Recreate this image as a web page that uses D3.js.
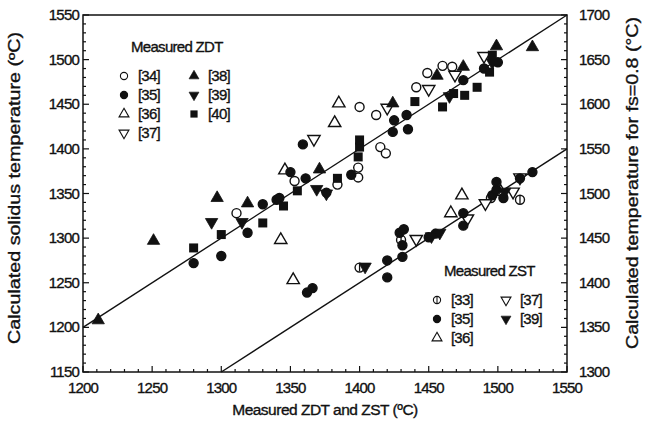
<!DOCTYPE html>
<html>
<head>
<meta charset="utf-8">
<script src="https://cdnjs.cloudflare.com/ajax/libs/d3/7.8.5/d3.min.js"></script>
<style>
  body { margin: 0; background: #fff; }
  text { font-family: Arial, "Liberation Sans", sans-serif; fill: #111; stroke: #111; stroke-width: 0.35; }
</style>
</head>
<body>
<script>
// Measured ZDT (x) vs calculated solidus temperature (left axis)
var zdt34 = [[1311,1328],[1353,1364],[1384,1360],[1399,1368],[1399,1379],[1400,1447],[1412,1438],[1415,1402],[1419,1395],[1441,1469],[1449,1485],[1460,1493],[1467,1492]];
var zdt35 = [[1280,1272],[1300,1280],[1319,1306],[1330,1338],[1340,1343],[1342,1345],[1350,1374],[1359,1405],[1361,1367],[1376,1351],[1394,1371],[1424,1419],[1425,1432],[1434,1438],[1435,1422],[1475,1477],[1490,1490],[1500,1497]];
var zdt36 = [[1382,1429],[1385,1451],[1346,1376]];
var zdt37 = [[1367,1411],[1420,1446],[1450,1467],[1469,1483],[1490,1504]];
var zdt38 = [[1211,1208],[1251,1297],[1297,1345],[1319,1339],[1371,1377],[1424,1451],[1456,1482],[1475,1492],[1499,1515],[1525,1514]];
var zdt39 = [[1293,1318],[1315,1318],[1369,1355],[1376,1350],[1465,1459],[1496,1497]];
var zdt40 = [[1280,1289],[1300,1304],[1330,1317],[1345,1336],[1355,1353],[1384,1367],[1399,1391],[1400,1402],[1400,1410],[1440,1453],[1460,1447],[1468,1462],[1476,1460],[1485,1469],[1494,1486],[1496,1505]];

// Measured ZST (x) vs calculated temperature for fs=0.8 (right axis)
var zst33 = [[1400,1417],[1430,1448],[1495,1495],[1516,1493]];
var zst35 = [[1362,1389],[1366,1394],[1420,1406],[1420,1425],[1431,1429],[1431,1442],[1429,1456],[1432,1460],[1450,1451],[1455,1455],[1475,1464],[1475,1478],[1496,1498],[1499,1504],[1504,1495],[1499,1513],[1516,1517],[1525,1524]];
var zst36 = [[1343,1448],[1352,1403],[1466,1478],[1474,1498],[1502,1502]];
var zst37 = [[1441,1449],[1478,1472],[1491,1489],[1511,1502],[1516,1518]];
var zst39 = [[1404,1418],[1452,1452],[1458,1456],[1505,1502]];

var xTicks = [1200,1250,1300,1350,1400,1450,1500,1550];
var yLeftTicks = [1150,1200,1250,1300,1350,1400,1450,1500,1550];
var yRightTicks = [1300,1350,1400,1450,1500,1550,1600,1650,1700];

var width = 648, height = 425;
var margin = {top: 15, right: 81, bottom: 53, left: 83};

var svg = d3.select("body").append("svg")
    .attr("width", width)
    .attr("height", height);

var x = d3.scaleLinear().domain([1200, 1550]).range([margin.left, width - margin.right]);
var yL = d3.scaleLinear().domain([1150, 1550]).range([height - margin.bottom, margin.top]);
var yR = d3.scaleLinear().domain([1300, 1700]).range([height - margin.bottom, margin.top]);

var x0 = margin.left, x1 = width - margin.right, y0 = height - margin.bottom, y1 = margin.top;

// frame
svg.append("rect")
    .attr("x", x0).attr("y", y1)
    .attr("width", x1 - x0).attr("height", y0 - y1)
    .attr("fill", "none").attr("stroke", "#111").attr("stroke-width", 1.5);

// ticks (inside), minor every 10
function minor(lo, hi) { return d3.range(lo, hi + 1, 10); }

svg.append("g").selectAll("line")
  .data(minor(1200, 1550))
  .enter().append("line")
    .attr("x1", function(d) { return x(d); })
    .attr("x2", function(d) { return x(d); })
    .attr("y1", y0)
    .attr("y2", function(d) { return d % 50 === 0 ? y0 - 6 : y0 - 3; })
    .attr("stroke", "#111").attr("stroke-width", 1.2);

svg.append("g").selectAll("line")
  .data(minor(1150, 1550))
  .enter().append("line")
    .attr("y1", function(d) { return yL(d); })
    .attr("y2", function(d) { return yL(d); })
    .attr("x1", x0)
    .attr("x2", function(d) { return d % 50 === 0 ? x0 + 6 : x0 + 3; })
    .attr("stroke", "#111").attr("stroke-width", 1.2);

svg.append("g").selectAll("line")
  .data(minor(1300, 1700))
  .enter().append("line")
    .attr("y1", function(d) { return yR(d); })
    .attr("y2", function(d) { return yR(d); })
    .attr("x1", x1)
    .attr("x2", function(d) { return d % 50 === 0 ? x1 - 6 : x1 - 3; })
    .attr("stroke", "#111").attr("stroke-width", 1.2);

// tick labels
svg.append("g").selectAll("text")
  .data(xTicks)
  .enter().append("text")
    .attr("x", function(d) { return x(d); })
    .attr("y", y0 + 21)
    .attr("text-anchor", "middle")
    .attr("font-size", 15)
    .attr("letter-spacing", -0.8)
    .text(function(d) { return d; });

svg.append("g").selectAll("text")
  .data(yLeftTicks)
  .enter().append("text")
    .attr("x", x0 - 4)
    .attr("y", function(d) { return yL(d) + 5; })
    .attr("text-anchor", "end")
    .attr("font-size", 15)
    .attr("letter-spacing", -0.8)
    .text(function(d) { return d; });

svg.append("g").selectAll("text")
  .data(yRightTicks)
  .enter().append("text")
    .attr("x", x1 + 12)
    .attr("y", function(d) { return yR(d) + 5; })
    .attr("text-anchor", "start")
    .attr("font-size", 15)
    .attr("letter-spacing", -0.8)
    .text(function(d) { return d; });

// axis titles
svg.append("text")
    .attr("x", (x0 + x1) / 2)
    .attr("y", 415)
    .attr("text-anchor", "middle")
    .attr("font-size", 15.5)
    .attr("letter-spacing", -0.5)
    .text("Measured ZDT and ZST (ºC)");

svg.append("text")
    .attr("transform", "translate(20,188) rotate(-90)")
    .attr("text-anchor", "middle")
    .attr("font-size", 16.5)
    .attr("textLength", 312)
    .attr("lengthAdjust", "spacingAndGlyphs")
    .text("Calculated solidus temperature (ºC)");

svg.append("text")
    .attr("transform", "translate(638,183) rotate(-90)")
    .attr("text-anchor", "middle")
    .attr("font-size", 16.5)
    .attr("textLength", 332)
    .attr("lengthAdjust", "spacingAndGlyphs")
    .text("Calculated temperature for fs=0.8 (°C)");

// y = x lines
svg.append("line")
    .attr("x1", x(1200)).attr("y1", yL(1200))
    .attr("x2", x(1550)).attr("y2", yL(1550))
    .attr("stroke", "#111").attr("stroke-width", 1.4);
svg.append("line")
    .attr("x1", x(1300)).attr("y1", yR(1300))
    .attr("x2", x(1550)).attr("y2", yR(1550))
    .attr("stroke", "#111").attr("stroke-width", 1.4);

// markers
var triUp = d3.symbol().type(d3.symbolTriangle).size(66);

function drawMarker(g, type) {
  if (type === "oc" || type === "fc" || type === "bar") {
    g.append("circle").attr("r", 4.5)
      .attr("fill", type === "fc" ? "#111" : "#fff")
      .attr("stroke", "#111").attr("stroke-width", 1.4);
    if (type === "bar") g.append("line").attr("x1", 0).attr("x2", 0).attr("y1", -4).attr("y2", 4)
      .attr("stroke", "#111").attr("stroke-width", 1.3);
  } else if (type === "fs") {
    g.append("rect").attr("x", -4.5).attr("y", -4.5).attr("width", 9).attr("height", 9)
      .attr("fill", "#111");
  } else {
    var filled = type === "ftu" || type === "ftd";
    var down = type === "otd" || type === "ftd";
    g.append("path").attr("d", triUp())
      .attr("transform", down ? "rotate(180)" : null)
      .attr("fill", filled ? "#111" : "#fff")
      .attr("stroke", "#111").attr("stroke-width", filled ? 0.8 : 1.4)
      .attr("stroke-linejoin", "miter");
  }
}

var series = [
  {data: zdt34, type: "oc", y: yL},
  {data: zdt36, type: "otu", y: yL},
  {data: zdt37, type: "otd", y: yL},
  {data: zst33, type: "bar", y: yR},
  {data: zst36, type: "otu", y: yR},
  {data: zst37, type: "otd", y: yR},
  {data: zdt35, type: "fc", y: yL},
  {data: zdt38, type: "ftu", y: yL},
  {data: zdt39, type: "ftd", y: yL},
  {data: zdt40, type: "fs", y: yL},
  {data: zst35, type: "fc", y: yR},
  {data: zst39, type: "ftd", y: yR}
];

series.forEach(function(s) {
  svg.append("g").selectAll("g")
    .data(s.data)
    .enter().append("g")
      .attr("transform", function(d) { return "translate(" + x(d[0]) + "," + s.y(d[1]) + ")"; })
      .each(function() { drawMarker(d3.select(this), s.type); });
});

// legends
var zdtLegend = [
  {label: "[34]", type: "oc", col: 0, row: 0},
  {label: "[35]", type: "fc", col: 0, row: 1},
  {label: "[36]", type: "otu", col: 0, row: 2},
  {label: "[37]", type: "otd", col: 0, row: 3},
  {label: "[38]", type: "ftu", col: 1, row: 0},
  {label: "[39]", type: "ftd", col: 1, row: 1},
  {label: "[40]", type: "fs", col: 1, row: 2}
];
var zstLegend = [
  {label: "[33]", type: "bar", col: 0, row: 0},
  {label: "[35]", type: "fc", col: 0, row: 1},
  {label: "[36]", type: "otu", col: 0, row: 2},
  {label: "[37]", type: "otd", col: 1, row: 0},
  {label: "[39]", type: "ftd", col: 1, row: 1}
];

function legend(title, items, lx, ly, colW) {
  var g = svg.append("g").attr("transform", "translate(" + lx + "," + ly + ")");
  g.append("text").attr("x", 7).attr("y", 0)
    .attr("font-size", 15).attr("letter-spacing", -0.7)
    .text(title);
  var it = g.selectAll(".item").data(items).enter().append("g")
    .attr("transform", function(d) { return "translate(" + (d.col * colW) + "," + (24 + d.row * 19) + ")"; });
  it.each(function(d) {
    var m = d3.select(this).append("g").attr("transform", "scale(0.8)");
    drawMarker(m, d.type);
  });
  it.append("text").attr("x", 14).attr("y", 5)
    .attr("font-size", 15).attr("letter-spacing", -0.8)
    .text(function(d) { return d.label; });
}

legend("Measured ZDT", zdtLegend, 124, 52, 70);
legend("Measured ZST", zstLegend, 437, 276, 69);
</script>
</body>
</html>
